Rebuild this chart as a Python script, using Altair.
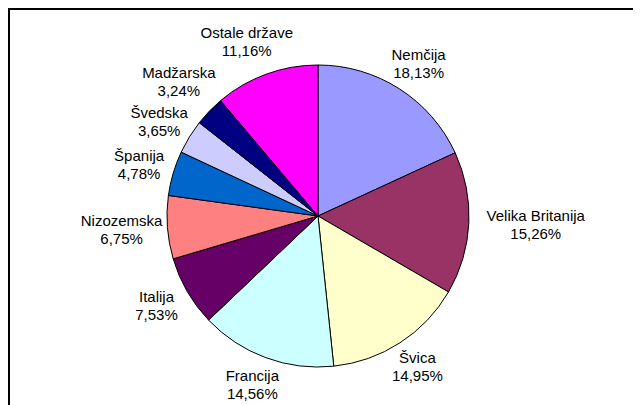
import altair as alt
import pandas as pd

names = ["Nemčija", "Velika Britanija", "Švica", "Francija", "Italija",
         "Nizozemska", "Španija", "Švedska", "Madžarska", "Ostale države"]
values = [18.13, 15.26, 14.95, 14.56, 7.53, 6.75, 4.78, 3.65, 3.24, 11.16]
colors = ["#9999FF", "#993366", "#FFFFCC", "#CCFFFF", "#660066",
          "#FF8080", "#0066CC", "#CCCCFF", "#000080", "#FF00FF"]

pct_labels = [f"{v:.2f}".replace(".", ",") + "%" for v in values]
df = pd.DataFrame({
    "idx": list(range(len(names))),
    "name": names,
    "value": values,
    "pct": pct_labels,
})
total = sum(values)

CX, CY = 310, 208   # pie centre inside the view
R = 151             # pie radius
RL = 162            # radius at which label boxes touch
CHAR_W = 7.0        # approx. character width at font size 15
BOX_H = 36          # two lines of text
GAP = 40            # min vertical distance between left-side labels
FONT = "Liberation Sans"

base = alt.Chart(df)

arcs = base.mark_arc(stroke="black", strokeWidth=1, outerRadius=R).encode(
    theta=alt.Theta("value:Q", stack=True, scale=alt.Scale(domain=[0, total])),
    color=alt.Color("name:N", scale=alt.Scale(domain=names, range=colors), legend=None),
    order=alt.Order("idx:Q", sort="ascending"),
    x=alt.value(CX),
    y=alt.value(CY),
)

labels = base.transform_window(
    cum="sum(value)", sort=[alt.SortField("idx", order="ascending")],
    frame=[None, 0]
).transform_calculate(
    label="datum.name + '\\n' + datum.pct",
    t0="(datum.cum - datum.value / 2) / %f * 2 * PI" % total,
    w="max(length(datum.name), length(datum.pct)) * %f" % CHAR_W,
).transform_calculate(
    ox="sin(datum.t0) * (%f + datum.w / 2)" % RL,
    oy0="-cos(datum.t0) * (%f + %f)" % (RL, BOX_H / 2),
).transform_calculate(
    # labels on the left half are pushed upward so they do not collide
    z="datum.t0 > PI ? datum.oy0 + datum.idx * %f : 100000" % GAP,
).transform_window(
    zmin="min(z)", sort=[alt.SortField("idx", order="ascending")],
    frame=[None, 0]
).transform_calculate(
    oy="datum.t0 > PI ? min(datum.oy0, datum.zmin - datum.idx * %f) : datum.oy0" % GAP,
).transform_calculate(
    rad="sqrt(datum.ox * datum.ox + datum.oy * datum.oy)",
    ang="atan2(datum.ox, -datum.oy)",
).mark_text(
    align="center", baseline="middle", font=FONT, fontSize=15,
    lineBreak="\n", lineHeight=18, color="black", dy=-9,
).encode(
    theta=alt.Theta("ang:Q", scale=None),
    radius=alt.Radius("rad:Q", scale=None),
    text="label:N",
    x=alt.value(CX),
    y=alt.value(CY),
)

frame = alt.Chart(pd.DataFrame({"a": [0]})).mark_rect(
    filled=False, stroke="black", strokeWidth=2, clip=False
).encode(
    x=alt.value(1), y=alt.value(1), x2=alt.value(800), y2=alt.value(600)
)

chart = alt.layer(frame, arcs, labels).properties(
    width=625, height=397, padding=0, autosize=alt.AutoSizeParams(type="none")
).configure_view(stroke=None)

chart.save("out.html", embed_options={"renderer": "svg", "actions": False})
